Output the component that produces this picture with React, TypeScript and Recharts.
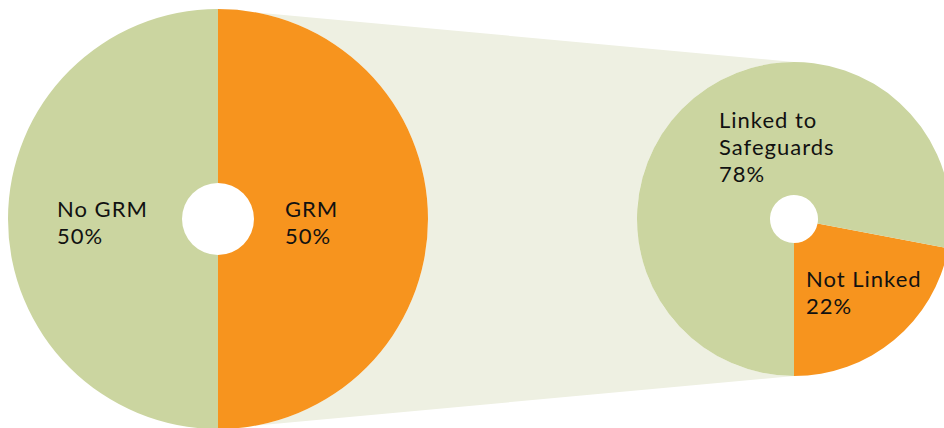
import React from "react";
import { PieChart, Pie, Cell } from "recharts";

// ---- data ----
const grmNames = ["GRM", "No GRM"];
const grmValues = [50, 50];
const linkNames = ["Not Linked", "Linked to Safeguards"];
const linkValues = [22, 78];
const linkLabelLines: Record<string, string[]> = {
  "GRM": ["GRM", "50%"],
  "No GRM": ["No GRM", "50%"],
  "Not Linked": ["Not Linked", "22%"],
  "Linked to Safeguards": ["Linked to", "Safeguards", "78%"],
};

// ---- style / layout ----
const W = 944;
const H = 428;
const ORANGE = "#F7941E";
const GREEN = "#CBD5A0";
const PALE = "#EEF0E2";
const FONT = "Lato, 'Open Sans', sans-serif";
const FS = 22;
const LH = 27;

const left = { cx: 218, cy: 219, r: 210, ir: 36 };
const right = { cx: 794, cy: 219, r: 157, ir: 24 };

// label block offsets (left x, first baseline y) relative to pie center
const labelOffsets: Record<string, { dx: number; dy: number }> = {
  "GRM": { dx: 67, dy: -2 },
  "No GRM": { dx: -161, dy: -2 },
  "Not Linked": { dx: 12, dy: 68 },
  "Linked to Safeguards": { dx: -75, dy: -91 },
};

const grmData = grmNames.map((n, i) => ({ name: n, value: grmValues[i] }));
const linkData = linkNames.map((n, i) => ({ name: n, value: linkValues[i] }));
const grmColors = [ORANGE, GREEN];
const linkColors = [ORANGE, GREEN];

const renderLabel = (props: any) => {
  const { cx, cy, name } = props;
  const off = labelOffsets[name];
  const lines = linkLabelLines[name];
  if (!off || !lines) return null;
  return (
    <text
      x={cx + off.dx}
      y={cy + off.dy}
      fill="#111"
      fontFamily={FONT}
      fontSize={FS}
      textAnchor="start"
      style={{ letterSpacing: "1px" }}
    >
      {lines.map((l, i) => (
        <tspan key={i} x={cx + off.dx} y={cy + off.dy + i * LH}>
          {l}
        </tspan>
      ))}
    </text>
  );
};

const connectorPath = () => {
  const lt = left.cy - left.r;
  const lb = left.cy + left.r;
  const rt = right.cy - right.r;
  const rb = right.cy + right.r;
  return `M ${left.cx} ${lt} L ${right.cx} ${rt} A ${right.r} ${right.r} 0 0 0 ${right.cx} ${rb} L ${left.cx} ${lb} A ${left.r} ${left.r} 0 0 0 ${left.cx} ${lt} Z`;
};

export default function App() {
  return (
    <div style={{ position: "fixed", left: 0, top: 0, width: W, height: H, background: "#fff", overflow: "hidden" }}>
      <svg width={W} height={H} style={{ position: "absolute", left: 0, top: 0 }}>
        <path d={connectorPath()} fill={PALE} />
      </svg>
      <div style={{ position: "absolute", left: 0, top: 0 }}>
        <PieChart width={W} height={H} margin={{ top: 0, right: 0, bottom: 0, left: 0 }}>
          <Pie
            data={grmData}
            dataKey="value"
            nameKey="name"
            cx={left.cx}
            cy={left.cy}
            outerRadius={left.r}
            innerRadius={left.ir}
            startAngle={-90}
            endAngle={270}
            stroke="none"
            isAnimationActive={false}
            label={renderLabel}
            labelLine={false}
          >
            {grmData.map((d, i) => (
              <Cell key={d.name} fill={grmColors[i]} />
            ))}
          </Pie>
          <Pie
            data={linkData}
            dataKey="value"
            nameKey="name"
            cx={right.cx}
            cy={right.cy}
            outerRadius={right.r}
            innerRadius={right.ir}
            startAngle={-90}
            endAngle={270}
            stroke="none"
            isAnimationActive={false}
            label={renderLabel}
            labelLine={false}
          >
            {linkData.map((d, i) => (
              <Cell key={d.name} fill={linkColors[i]} />
            ))}
          </Pie>
        </PieChart>
      </div>
    </div>
  );
}
